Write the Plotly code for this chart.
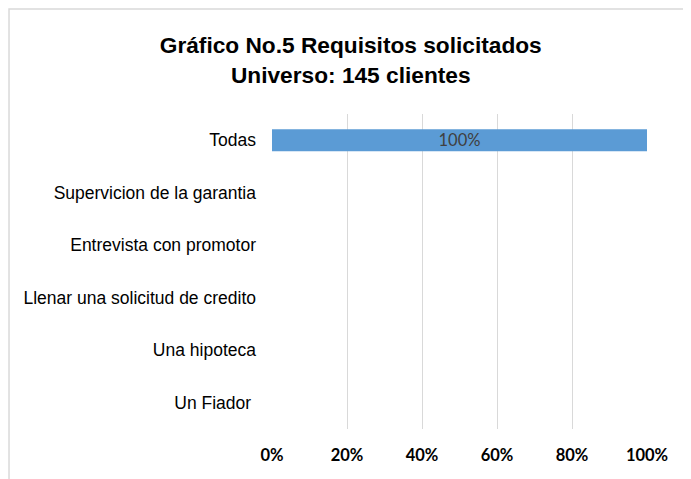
import plotly.graph_objects as go

# categories listed from top to bottom, as in the source chart
categories = [
    "Todas",
    "Supervicion de la garantia",
    "Entrevista con promotor",
    "Llenar una solicitud de credito",
    "Una hipoteca",
    "Un Fiador ",
]
shares = [1.00, 0, 0, 0, 0, 0]
x_ticks = [0, 0.2, 0.4, 0.6, 0.8, 1.0]
x_tick_labels = ["0%", "20%", "40%", "60%", "80%", "100%"]

BAR_COLOUR = "#5B9BD5"
GRID_COLOUR = "#D9D9D9"

# only non-zero bars carry a label
labels = ["{:.0%}".format(v) if v else "" for v in shares]

fig = go.Figure(
    go.Bar(
        x=shares,
        y=categories,
        orientation="h",
        marker=dict(color=BAR_COLOUR, line=dict(width=0)),
        width=0.42,
        text=labels,
        textposition="inside",
        insidetextanchor="middle",
        constraintext="none",
        textfont=dict(family="Lato", size=16.5, color="#404040"),
        cliponaxis=False,
    )
)

# outer chart frame (the right and bottom edges fall outside the picture)
fig.add_shape(
    type="rect",
    xref="paper", yref="paper",
    x0=-0.7013, x1=1.3, y0=-0.3, y1=1.3333,
    line=dict(color=GRID_COLOUR, width=1.5),
    fillcolor="rgba(0,0,0,0)",
    layer="below",
)

fig.update_layout(
    width=691,
    height=479,
    margin=dict(l=264, r=52, t=106, b=58),
    paper_bgcolor="white",
    plot_bgcolor="white",
    showlegend=False,
    title=dict(
        text="<b>Gráfico No.5 Requisitos solicitados<br>Universo: 145 clientes</b>",
        font=dict(family="Liberation Sans", size=22.7, color="black"),
        x=0.496, xanchor="center",
        y=1 - 45 / 479, yanchor="top",
        yref="container",
    ),
    xaxis=dict(
        range=[0, 1.0],
        tickvals=x_ticks,
        ticktext=x_tick_labels,
        tickfont=dict(family="Lato", size=16.5, color="black", weight="bold"),
        showgrid=True,
        gridcolor=GRID_COLOUR,
        gridwidth=1,
        zeroline=False,
        showline=False,
        ticks="",
        ticklabelstandoff=14,
    ),
    yaxis=dict(
        autorange="reversed",
        tickfont=dict(family="Liberation Sans", size=17.5, color="black"),
        showgrid=False,
        zeroline=False,
        showline=False,
        ticks="",
        ticklabelstandoff=15,
    ),
)

fig.write_html("out.html")
